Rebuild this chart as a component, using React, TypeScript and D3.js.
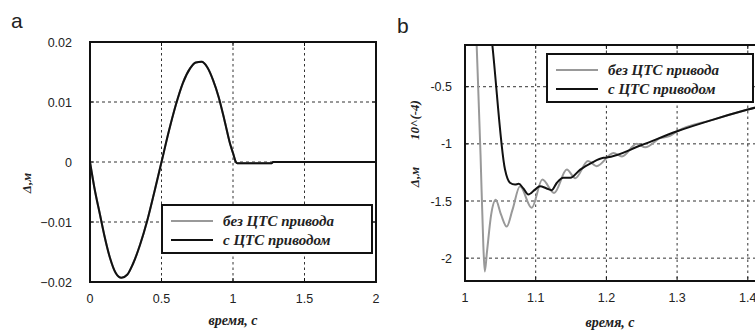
import React from 'react';
import * as d3 from 'd3';

// Panel a: displacement over full interval (both series coincide)
const timeA = [0, 0.03, 0.07, 0.10, 0.14, 0.18, 0.22, 0.26, 0.30, 0.35, 0.40, 0.45, 0.50, 0.55, 0.60, 0.65, 0.70, 0.74, 0.78, 0.82, 0.86, 0.90, 0.94, 0.98, 1.00, 1.02, 1.03, 1.27, 1.28, 2.0];
const valA = [0, -0.0042, -0.0088, -0.0122, -0.0160, -0.0185, -0.0193, -0.0188, -0.0170, -0.0138, -0.0098, -0.0050, 0, 0.0050, 0.0095, 0.0132, 0.0156, 0.0166, 0.0167, 0.0158, 0.0137, 0.0108, 0.0070, 0.0030, 0.0015, 0, -0.0002, -0.0002, 0, 0];

// Panel b: zoom (x10^-4)
const timeGray = [1.014, 1.0165, 1.022, 1.026, 1.028, 1.031, 1.037, 1.0434, 1.051, 1.059, 1.067, 1.0778, 1.0943, 1.1094, 1.126, 1.144, 1.156, 1.174, 1.186, 1.21, 1.222, 1.243, 1.255, 1.276, 1.29, 1.3, 1.35, 1.4, 1.45, 1.5];
const valGray = [0.3, -0.136, -1.1, -1.9, -2.117, -1.95, -1.62, -1.49, -1.62, -1.724, -1.58, -1.371, -1.56, -1.312, -1.43, -1.225, -1.30, -1.15, -1.195, -1.08, -1.11, -1.0, -1.03, -0.95, -0.93, -0.89, -0.79, -0.70, -0.62, -0.55];

const timeBlack = [1.033, 1.0387, 1.0566, 1.0636, 1.0707, 1.076, 1.0825, 1.0896, 1.099, 1.106, 1.1155, 1.1226, 1.13, 1.139, 1.149, 1.163, 1.179, 1.196, 1.2, 1.25, 1.3, 1.35, 1.4, 1.45, 1.5];
const valBlack = [0.2, -0.136, -1.225, -1.34, -1.356, -1.35, -1.39, -1.443, -1.40, -1.37, -1.39, -1.405, -1.34, -1.297, -1.297, -1.225, -1.166, -1.122, -1.12, -1.01, -0.89, -0.79, -0.70, -0.62, -0.55];

const ticksXA = [0, 0.5, 1, 1.5, 2];
const ticksYA = [-0.02, -0.01, 0, 0.01, 0.02];
const ticksXB = [1, 1.1, 1.2, 1.3, 1.4, 1.5];
const ticksYB = [-2, -1.5, -1, -0.5];

const legendLabels = ['без ЦТС привода', 'с ЦТС приводом'];
const xLabel = 'время, с';

const SANS = "'Liberation Sans', Arial, sans-serif";
const SERIF = "'Liberation Serif', 'DejaVu Serif', 'Times New Roman', serif";

function zip(t: number[], v: number[]) {
  return t.map((x, i) => [x, v[i]] as [number, number]);
}

interface PanelProps {
  id: string;
  left: number; right: number; top: number; bottom: number;
  xDomain: [number, number]; yDomain: [number, number];
  xTicks: number[]; yTicks: number[];
  xFmt: (d: number) => string; yFmt: (d: number) => string;
  series: { data: [number, number][]; color: string }[];
  legend: { x: number; y: number; w: number; h: number };
  yLabelGap: number;
  xLabelY: number;
}

const serifStyle: React.CSSProperties = { fontFamily: SERIF, fontStyle: 'italic', fontWeight: 700 };

function Panel(p: PanelProps) {
  const x = d3.scaleLinear().domain(p.xDomain).range([p.left, p.right]);
  const y = d3.scaleLinear().domain(p.yDomain).range([p.bottom, p.top]);
  const line = d3.line<[number, number]>().x(d => x(d[0])).y(d => y(d[1])).curve(d3.curveMonotoneX);
  const gridColor = '#333';
  const lg = p.legend;
  return (
    <g>
      <defs>
        <clipPath id={p.id}>
          <rect x={p.left} y={p.top} width={p.right - p.left} height={p.bottom - p.top} />
        </clipPath>
      </defs>
      <rect x={p.left} y={p.top} width={p.right - p.left} height={p.bottom - p.top} fill="#fff" />
      {p.xTicks.map(t => (
        <line key={'gx' + t} x1={x(t)} x2={x(t)} y1={p.top} y2={p.bottom} stroke={gridColor} strokeWidth={1} strokeDasharray="2.5,3" />
      ))}
      {p.yTicks.map(t => (
        <line key={'gy' + t} x1={p.left} x2={p.right} y1={y(t)} y2={y(t)} stroke={gridColor} strokeWidth={1} strokeDasharray="3,3" />
      ))}
      {p.xTicks.map(t => (
        <g key={'tx' + t}>
          <line x1={x(t)} x2={x(t)} y1={p.bottom} y2={p.bottom - 4} stroke="#111" strokeWidth={1} />
          <line x1={x(t)} x2={x(t)} y1={p.top} y2={p.top + 4} stroke="#111" strokeWidth={1} />
        </g>
      ))}
      {p.yTicks.map(t => (
        <g key={'ty' + t}>
          <line x1={p.left} x2={p.left + 4} y1={y(t)} y2={y(t)} stroke="#111" strokeWidth={1} />
          <line x1={p.right} x2={p.right - 4} y1={y(t)} y2={y(t)} stroke="#111" strokeWidth={1} />
        </g>
      ))}
      <g clipPath={`url(#${p.id})`}>
        {p.series.map((s, i) => (
          <path key={i} d={line(s.data) || ''} fill="none" stroke={s.color} strokeWidth={2} strokeLinejoin="round" />
        ))}
      </g>
      <rect x={p.left} y={p.top} width={p.right - p.left} height={p.bottom - p.top} fill="none" stroke="#111" strokeWidth={2} />
      {p.xTicks.map(t => (
        <text key={'lx' + t} x={x(t)} y={p.bottom + 21} textAnchor="middle" style={{ fontFamily: SANS }} fontSize={12.5} fill="#222">{p.xFmt(t)}</text>
      ))}
      {p.yTicks.map(t => (
        <text key={'ly' + t} x={p.left - p.yLabelGap} y={y(t) + 4.5} textAnchor="end" style={{ fontFamily: SANS }} fontSize={12.5} fill="#222">{p.yFmt(t)}</text>
      ))}
      <text x={(p.left + Math.min(p.right, 755)) / 2} y={p.xLabelY} textAnchor="middle" style={serifStyle} fontSize={14} fill="#222">{xLabel}</text>
      <rect x={lg.x} y={lg.y} width={lg.w} height={lg.h} fill="#fff" stroke="#111" strokeWidth={2} />
      {p.series.map((s, i) => {
        const ly = lg.y + 16 + i * 19;
        return (
          <g key={'lg' + i}>
            <line x1={lg.x + 9} x2={lg.x + 51} y1={ly} y2={ly} stroke={s.color} strokeWidth={2} />
            <text x={lg.x + 61} y={ly + 5} style={serifStyle} fontSize={15} fill="#222">{legendLabels[i]}</text>
          </g>
        );
      })}
    </g>
  );
}

export default function App() {
  const fmtA = (d: number) => (d === 0 ? '0' : d3.format('.2f')(d));
  const fmtGen = (d: number) => String(d);
  return (
    <svg width={755} height={331} style={{ position: 'absolute', left: 0, top: 0, background: '#fff' }}>
      <rect width={755} height={331} fill="#fff" />
      <text x={11} y={28} style={{ fontFamily: SANS }} fontSize={21} fill="#222">a</text>
      <text x={397} y={33} style={{ fontFamily: SANS }} fontSize={21} fill="#222">b</text>
      <Panel
        id="clipA" left={90} right={376} top={42} bottom={282}
        xDomain={[0, 2]} yDomain={[-0.02, 0.02]}
        xTicks={ticksXA} yTicks={ticksYA}
        xFmt={fmtGen} yFmt={fmtA}
        series={[{ data: zip(timeA, valA), color: '#999' }, { data: zip(timeA, valA), color: '#111' }]}
        legend={{ x: 162, y: 205, w: 210, h: 48 }}
        yLabelGap={18}
        xLabelY={325}
      />
      <text transform="translate(31,183) rotate(-90)" textAnchor="middle" style={serifStyle} fontSize={13} fill="#222">Δ,м</text>
      <Panel
        id="clipB" left={465} right={818.5} top={45} bottom={281}
        xDomain={[1, 1.5]} yDomain={[-2.2, -0.135]}
        xTicks={ticksXB} yTicks={ticksYB}
        xFmt={fmtGen} yFmt={fmtGen}
        series={[{ data: zip(timeGray, valGray), color: '#999' }, { data: zip(timeBlack, valBlack), color: '#111' }]}
        legend={{ x: 547, y: 54, w: 206, h: 48 }}
        yLabelGap={13}
        xLabelY={327}
      />
      <text transform="translate(419,177) rotate(-90)" textAnchor="middle" style={serifStyle} fontSize={13} fill="#222">Δ,м</text>
      <text transform="translate(419,120) rotate(-90)" textAnchor="middle" style={serifStyle} fontSize={13} fill="#222">10^(-4)</text>
    </svg>
  );
}
